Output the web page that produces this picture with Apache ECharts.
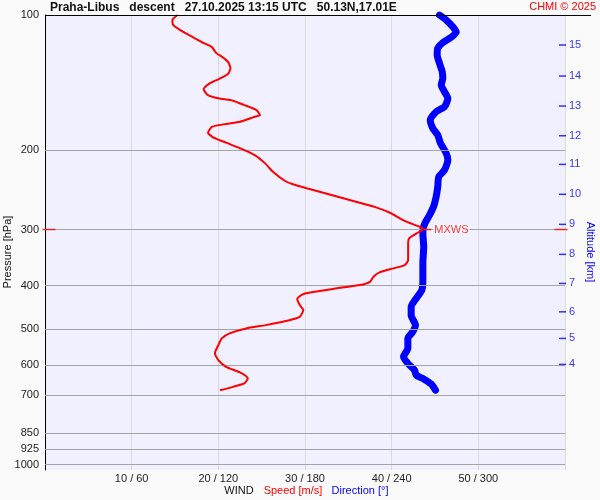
<!DOCTYPE html>
<html>
<head>
<meta charset="utf-8">
<script src="https://cdn.jsdelivr.net/npm/echarts@6/dist/echarts.min.js"></script>
<style>
html,body{margin:0;padding:0;background:#fafafa;}
#chart{width:600px;height:500px;}
</style>
</head>
<body>
<div id="chart"></div>
<script>
// ---- data ----
const pressureTicks = [100, 200, 300, 400, 500, 600, 700, 850, 925, 1000];
const speedTicks = [10, 20, 30, 40, 50];
const dirTicks = [60, 120, 180, 240, 300];
const altKm = [4, 5, 6, 7, 8, 9, 10, 11, 12, 13, 14, 15];
const altPressure = [598.6, 524.0, 457.3, 395.4, 340.7, 292.2, 250.5, 214.9, 185.6, 159.4, 136.7, 116.6];

const speedPressure = [100, 102.6, 105.3, 108.9, 112.1, 115.2, 117.6, 121.7, 123.8, 127.0, 131.4, 135.3, 139.0, 141.9, 146.3, 150.7, 153.2, 155.1, 158.6, 162.7, 166.9, 168.9, 172.7, 174.7, 177.2, 182.7, 187.1, 192.3, 197.9, 204.9, 213.8, 223.2, 234.0, 238.0, 242.9, 248.4, 254.4, 261.6, 267.8, 275.3, 287.0, 296.8, 300.0, 303.5, 314.0, 325.0, 350.9, 359.9, 366.0, 373.6, 382.1, 392.1, 398.8, 404.4, 411.2, 417.6, 428.4, 441.8, 453.3, 469.1, 478.8, 489.5, 497.8, 510.7, 524.0, 542.3, 565.9, 585.7, 606.1, 623.8, 643.2, 660.0, 671.5, 683.0];
const speedValues = [15.3, 14.7, 14.8, 15.9, 17.1, 18.2, 19.2, 19.8, 20.4, 21.1, 21.4, 21.1, 20.0, 19.0, 18.3, 18.8, 20.0, 21.7, 23.0, 24.4, 24.8, 24.0, 22.5, 20.9, 19.3, 18.8, 19.4, 20.9, 22.5, 24.2, 25.4, 26.3, 27.7, 28.6, 30.2, 32.1, 34.0, 36.3, 38.2, 39.8, 41.5, 43.4, 43.6, 43.2, 42.0, 41.9, 41.9, 41.5, 40.2, 38.6, 37.9, 37.5, 36.3, 34.0, 31.7, 29.8, 29.1, 29.4, 29.8, 29.4, 27.9, 25.5, 23.2, 21.3, 20.4, 20.0, 19.6, 20.0, 20.9, 22.5, 23.4, 23.0, 21.7, 20.2];

const dirPressure = [100, 102.6, 106.2, 109.3, 112.1, 115.2, 118.6, 122.7, 128.0, 133.7, 138.3, 143.2, 148.2, 153.2, 160.0, 164.1, 171.2, 178.7, 184.9, 192.9, 203.1, 210.2, 221.2, 229.0, 241.0, 253.7, 267.0, 278.6, 289.8, 300.8, 306.0, 327.8, 356.8, 388.6, 409.1, 426.8, 445.7, 465.1, 489.5, 506.6, 524.0, 551.5, 575.7, 595.5, 616.3, 632.3, 646.4, 662.1, 683.0];
const dirValues = [273.1, 277.8, 282.3, 284.7, 281.2, 275.4, 271.9, 271.5, 273.1, 275.0, 275.4, 274.3, 276.6, 278.9, 276.6, 270.8, 266.7, 268.5, 271.9, 273.8, 277.8, 278.9, 276.6, 272.6, 271.9, 270.8, 269.0, 266.2, 263.2, 261.6, 261.6, 262.2, 261.6, 261.6, 260.9, 257.0, 253.5, 253.5, 256.5, 254.6, 251.2, 251.2, 248.2, 251.2, 255.8, 257.0, 262.7, 267.4, 270.3];

const mxwsPressure = 300;
const mxwsSpeed = 43.6;
const speedMax = 60;
const dirMax = 360;

// ---- chart ----
const FONT = "'Liberation Sans', Arial, sans-serif";
const RED = '#ff0000';
const BLUE = '#0000ff';
const chart = echarts.init(document.getElementById('chart'), null, {renderer: 'canvas'});

const option = {
  animation: false,
  backgroundColor: '#fafafa',
  grid: {left: 45, top: 15, right: 35, bottom: 30, show: true, backgroundColor: '#f0f0fe', borderWidth: 0},
  xAxis: [
    {
      type: 'value', min: 0, max: speedMax, interval: 10,
      axisLine: {show: false}, axisTick: {show: false},
      splitLine: {show: true, lineStyle: {color: '#dadada', width: 1}},
      axisLabel: {
        showMinLabel: false, showMaxLabel: false, margin: 3,
        color: '#222', fontSize: 11, fontFamily: FONT,
        formatter: function (v) {
          const i = speedTicks.indexOf(v);
          return i >= 0 ? speedTicks[i] + ' / ' + dirTicks[i] : '';
        }
      }
    },
    {
      type: 'value', min: 0, max: dirMax, show: false
    }
  ],
  yAxis: {
    type: 'log', logBase: 10, min: 100, max: 1028, inverse: true,
    axisLine: {show: true, lineStyle: {color: '#000', width: 1}},
    axisTick: {show: false}, axisLabel: {show: false}, splitLine: {show: false}
  },
  series: [
    {
      type: 'line', data: [], z: 1, silent: true,
      markLine: {
        silent: true, symbol: ['none', 'none'], animation: false,
        lineStyle: {color: '#a4a4a4', width: 1, type: 'solid'},
        label: {show: true, position: 'start', distance: 6, color: '#222', fontSize: 11, fontFamily: FONT,
          formatter: function (p) { return String(p.value); }},
        emphasis: {disabled: true},
        data: pressureTicks.map(p => ({yAxis: p}))
      }
    },
    {
      name: 'Direction', type: 'line', xAxisIndex: 1, z: 4,
      showSymbol: false, smooth: 0.2,
      lineStyle: {color: BLUE, width: 7, cap: 'round', join: 'round'},
      data: dirValues.map((d, i) => [d, dirPressure[i]])
    },
    {
      name: 'Speed', type: 'line', xAxisIndex: 0, z: 5,
      showSymbol: false, smooth: 0.2,
      lineStyle: {color: RED, width: 2},
      data: speedValues.map((s, i) => [s, speedPressure[i]])
    },
    {
      name: 'Altitude', type: 'scatter', xAxisIndex: 0, z: 6, silent: true,
      symbol: 'rect', symbolSize: [7, 1.5], symbolOffset: [-2.5, 0],
      itemStyle: {color: BLUE},
      label: {show: true, position: 'right', distance: 3, color: BLUE, fontSize: 11, fontFamily: FONT,
        formatter: function (p) { return String(altKm[p.dataIndex]); }},
      data: altPressure.map(p => [speedMax, p])
    },
    {
      name: 'MXWS', type: 'scatter', xAxisIndex: 0, z: 7, silent: true,
      symbol: 'rect', itemStyle: {color: RED},
      data: [
        {value: [mxwsSpeed, mxwsPressure], symbolSize: [11, 1.5], symbolOffset: [3, 0],
          label: {show: true, position: 'right', distance: 2, formatter: 'MXWS', color: RED, fontSize: 11,
            fontFamily: FONT, backgroundColor: '#f8f8ff', padding: [0, 1]}},
        {value: [0, mxwsPressure], symbolSize: [13, 1.5], symbolOffset: [4, 0]},
        {value: [speedMax, mxwsPressure], symbolSize: [13, 1.5], symbolOffset: [-4, 0]}
      ]
    }
  ],
  graphic: [
    {type: 'line', z: 100, shape: {x1: 45, y1: 15.5, x2: 591, y2: 15.5}, style: {stroke: '#000', lineWidth: 1}},
    {type: 'text', x: 50, y: 7.5, z: 100, style: {text: 'Praha-Libus   descent   27.10.2025 13:15 UTC   50.13N,17.01E',
      font: 'bold 12px ' + FONT, fill: '#111', align: 'left', verticalAlign: 'middle'}},
    {type: 'text', x: 596, y: 7, z: 100, style: {text: 'CHMI \u00a9 2025', font: '11px ' + FONT, fill: RED, align: 'right', verticalAlign: 'middle'}},
    {type: 'text', x: 8, y: 252, rotation: Math.PI / 2, z: 100, style: {text: 'Pressure [hPa]', font: '11px ' + FONT, fill: '#111', align: 'center', verticalAlign: 'middle'}},
    {type: 'text', x: 590, y: 252, rotation: -Math.PI / 2, z: 100, style: {text: 'Altitude [km]', font: '11px ' + FONT, fill: BLUE, align: 'center', verticalAlign: 'middle'}},
    {type: 'text', x: 239, y: 491, z: 100, style: {text: 'WIND', font: '11px ' + FONT, fill: '#111', align: 'center', verticalAlign: 'middle'}},
    {type: 'text', x: 293, y: 491, z: 100, style: {text: 'Speed [m/s]', font: '11px ' + FONT, fill: RED, align: 'center', verticalAlign: 'middle'}},
    {type: 'text', x: 360, y: 491, z: 100, style: {text: 'Direction [\u00b0]', font: '11px ' + FONT, fill: BLUE, align: 'center', verticalAlign: 'middle'}}
  ]
};
chart.setOption(option);
</script>
</body>
</html>
